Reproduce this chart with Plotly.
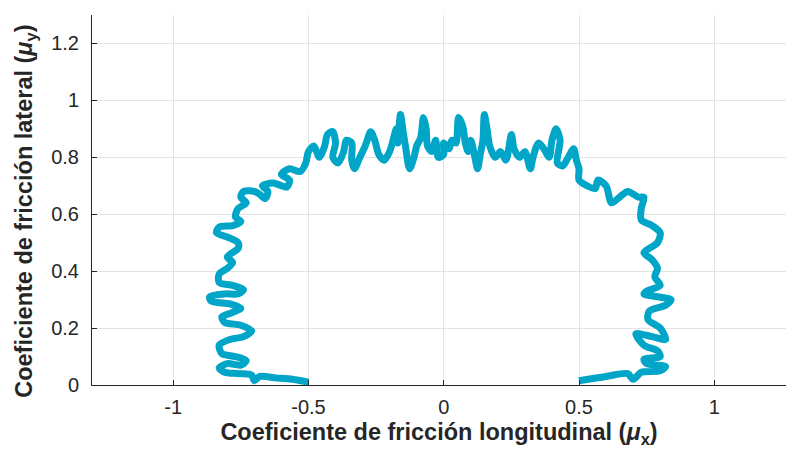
import plotly.graph_objects as go

# Friction coefficient trace (mu_x, mu_y)
mu_x = [
    -0.50, -0.56, -0.62, -0.68, -0.70, -0.71, -0.76, -0.81, -0.83, -0.80,
    -0.75, -0.73, -0.77, -0.82, -0.83, -0.79, -0.74, -0.71, -0.75, -0.81,
    -0.82, -0.78, -0.75, -0.79, -0.86, -0.865, -0.81, -0.76, -0.74, -0.78,
    -0.83, -0.83, -0.80, -0.78, -0.80, -0.76, -0.76, -0.80, -0.84, -0.83,
    -0.78, -0.75, -0.77, -0.76, -0.73, -0.75, -0.74, -0.70, -0.68, -0.66,
    -0.65, -0.67, -0.63, -0.60, -0.58, -0.57, -0.60, -0.57, -0.53, -0.51,
    -0.50, -0.48, -0.46, -0.44, -0.43, -0.41, -0.40, -0.41, -0.39, -0.37,
    -0.36, -0.34, -0.34, -0.33, -0.31, -0.29, -0.27, -0.255, -0.24, -0.22,
    -0.20, -0.19, -0.175, -0.17, -0.16, -0.15, -0.14, -0.13, -0.125, -0.11,
    -0.10, -0.085, -0.075, -0.065, -0.06, -0.045, -0.03, -0.02, 0.00, 0.00,
    0.02, 0.03, 0.045, 0.055, 0.07, 0.08, 0.09, 0.10, 0.115, 0.125,
    0.135, 0.145, 0.15, 0.16, 0.17, 0.19, 0.21, 0.23, 0.25, 0.26,
    0.28, 0.30, 0.32, 0.33, 0.35, 0.37, 0.39, 0.40, 0.415, 0.43,
    0.42, 0.44, 0.46, 0.48, 0.49, 0.50, 0.50, 0.53,
    0.56, 0.57, 0.60, 0.62, 0.65, 0.68, 0.72, 0.74, 0.73, 0.73,
    0.77, 0.80, 0.79, 0.74, 0.77, 0.79, 0.78, 0.80, 0.75, 0.74,
    0.79, 0.84, 0.82, 0.76, 0.755, 0.80, 0.82, 0.77, 0.71, 0.74,
    0.79, 0.80, 0.74, 0.75, 0.82, 0.80, 0.73, 0.70, 0.68, 0.60,
    0.50,
]
mu_y = [
    0.010, 0.020, 0.025, 0.030, 0.015, 0.035, 0.040, 0.045, 0.060, 0.075,
    0.070, 0.085, 0.100, 0.110, 0.140, 0.160, 0.170, 0.190, 0.210, 0.220,
    0.240, 0.255, 0.270, 0.285, 0.295, 0.310, 0.320, 0.320, 0.335, 0.350,
    0.360, 0.390, 0.410, 0.430, 0.450, 0.480, 0.500, 0.520, 0.535, 0.555,
    0.560, 0.575, 0.590, 0.620, 0.640, 0.660, 0.680, 0.680, 0.670, 0.655,
    0.680, 0.700, 0.710, 0.700, 0.695, 0.720, 0.740, 0.760, 0.750, 0.780,
    0.820, 0.840, 0.800, 0.840, 0.880, 0.890, 0.850, 0.800, 0.780, 0.820,
    0.860, 0.850, 0.790, 0.760, 0.800, 0.840, 0.890, 0.860, 0.810, 0.790,
    0.820, 0.850, 0.900, 0.850, 0.950, 0.890, 0.830, 0.770, 0.760, 0.800,
    0.840, 0.870, 0.940, 0.900, 0.840, 0.820, 0.860, 0.800, 0.810, 0.850,
    0.830, 0.860, 0.850, 0.940, 0.910, 0.850, 0.820, 0.860, 0.800, 0.760,
    0.810, 0.860, 0.950, 0.900, 0.840, 0.800, 0.820, 0.790, 0.880, 0.830,
    0.800, 0.820, 0.760, 0.800, 0.850, 0.830, 0.800, 0.860, 0.900, 0.860,
    0.780, 0.770, 0.800, 0.830, 0.790, 0.760, 0.720, 0.700,
    0.690, 0.720, 0.700, 0.640, 0.660, 0.680, 0.660, 0.660, 0.620, 0.580,
    0.560, 0.535, 0.500, 0.465, 0.440, 0.410, 0.380, 0.350, 0.330, 0.320,
    0.310, 0.300, 0.280, 0.260, 0.230, 0.200, 0.160, 0.170, 0.180, 0.140,
    0.120, 0.100, 0.090, 0.075, 0.065, 0.050, 0.045, 0.020, 0.040, 0.030,
    0.015,
]

x_ticks = [-1, -0.5, 0, 0.5, 1]
x_tick_labels = ["-1", "-0.5", "0", "0.5", "1"]
y_ticks = [0, 0.2, 0.4, 0.6, 0.8, 1.0, 1.2]
y_tick_labels = ["0", "0.2", "0.4", "0.6", "0.8", "1", "1.2"]

line_color = "rgb(0,165,199)"
text_color = "#262626"
grid_color = "#e3e3e3"
font_family = "Liberation Sans, Arial, sans-serif"

fig = go.Figure()
fig.add_trace(go.Scatter(
    x=mu_x, y=mu_y, mode="lines",
    line=dict(color=line_color, width=7, shape="spline", smoothing=0.8),
    showlegend=False,
))

fig.update_layout(
    width=786, height=457,
    margin=dict(l=92, r=0, t=15, b=72),
    paper_bgcolor="white", plot_bgcolor="white",
    font=dict(family=font_family, size=20, color=text_color),
    xaxis=dict(
        range=[-1.3, 1.265],
        tickvals=x_ticks, ticktext=x_tick_labels,
        ticks="inside", ticklen=5, tickcolor=text_color, tickwidth=1,
        showline=True, linecolor=text_color, linewidth=1,
        showgrid=True, gridcolor=grid_color, gridwidth=1,
        zeroline=False,
        tickfont=dict(size=20, color=text_color),
        ticklabelstandoff=4,
        title=dict(text="<b>Coeficiente de fricción longitudinal (<i>μ</i><sub>x</sub>)</b>",
                   font=dict(size=23.5, color=text_color), standoff=6),
    ),
    yaxis=dict(
        range=[0, 1.3],
        tickvals=y_ticks, ticktext=y_tick_labels,
        ticks="inside", ticklen=5, tickcolor=text_color, tickwidth=1,
        showline=True, linecolor=text_color, linewidth=1,
        showgrid=True, gridcolor=grid_color, gridwidth=1,
        zeroline=False,
        tickfont=dict(size=20, color=text_color),
        ticklabelstandoff=8,
    ),
    annotations=[dict(
        text="<b>Coeficiente de fricción lateral (<i>μ</i><sub>y</sub>)</b>",
        xref="paper", yref="paper", x=-0.097, y=0.47,
        xanchor="center", yanchor="middle", textangle=-90,
        showarrow=False, font=dict(size=23.5, color=text_color),
    )],
)

fig.write_html("out.html")
